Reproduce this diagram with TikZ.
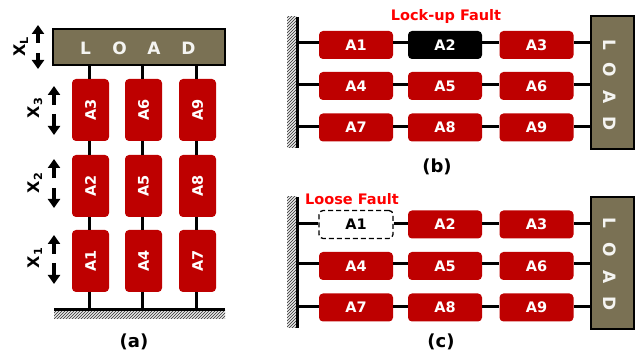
\documentclass[tikz,border=0pt]{standalone}
\usepackage{fontspec}
\setmainfont{DejaVu Sans}
\usetikzlibrary{arrows.meta,calc}
\definecolor{actred}{HTML}{BE0000}
\definecolor{loadc}{HTML}{7A7154}
\definecolor{hatchc}{HTML}{505050}
\tikzset{
  act/.style={fill=actred,rounded corners=4pt,inner sep=0pt,text=white,font=\bfseries\fontsize{14.5}{16}\selectfont},
  actv/.style={act,minimum width=37pt,minimum height=62pt},
  acth/.style={act,minimum width=74pt,minimum height=28pt},
  lockact/.style={acth,fill=black},
  looseact/.style={acth,fill=white,text=black,draw=black,dash pattern=on 5pt off 3pt,line width=1.3pt},
  loadbox/.style={draw=black,line width=1.8pt,fill=loadc,inner sep=0pt},
  loadtxt/.style={text=white!92!loadc,font=\bfseries\fontsize{17}{18}\selectfont,inner sep=0pt},
  conn/.style={line width=3pt,black},
  wallline/.style={line width=3pt,black},
  hatchl/.style={line width=.9pt,hatchc},
  dirarrow/.style={line width=3.5pt,-{Triangle[width=12pt,length=9pt]}},
  axislbl/.style={font=\bfseries\fontsize{16}{18}\selectfont,rotate=90,inner sep=0pt},
  faulttxt/.style={text=red,font=\bfseries\fontsize{14.5}{16}\selectfont,inner sep=0pt},
  caption/.style={font=\bfseries\fontsize{18}{20}\selectfont,inner sep=0pt},
}
\begin{document}
\begin{tikzpicture}[x=1pt,y=-1pt]
\useasboundingbox (0,0) rectangle (638,355);
% ---------- panel (a)
\node[loadbox,minimum width=172pt,minimum height=36pt] (la) at (139,47) {};
\node[loadtxt] (la1) at (85.5,48) {L};
\node[loadtxt] (la2) at (119.5,48) {O};
\node[loadtxt] (la3) at (154,48) {A};
\node[loadtxt] (la4) at (188.5,48) {D};
\foreach \n/\t/\x/\y in {a3/A3/90.5/110,a6/A6/143.5/110,a9/A9/197.5/110,
                         a2/A2/90.5/186,a5/A5/143.5/186,a8/A8/197.5/186,
                         a1/A1/90.5/261,a4/A4/143.5/261,a7/A7/197.5/261}
  \node[actv] (\n) at (\x,\y) {\rotatebox{90}{\t}};
\coordinate (ga) at (54,310);
\coordinate (gb) at (225,310);
\begin{scope}
\clip (54,310) rectangle (225,319);
\foreach \i in {0,3,...,186}
  \draw[hatchl] ($(ga)+(\i,0)$) -- ($(ga)+(\i-10,10)$);
\end{scope}
\draw[wallline] (ga) -- (gb);
\foreach \c/\m/\t in {a1/a2/a3,a4/a5/a6,a7/a8/a9}{
  \draw[conn] ([xshift=-1.5pt]\c.south) -- ([xshift=-1.5pt]\c.south |- ga);
  \draw[conn] ([xshift=-1.5pt]\c.north) -- ([xshift=-1.5pt]\m.south);
  \draw[conn] ([xshift=-1.5pt]\m.north) -- ([xshift=-1.5pt]\t.south);
  \draw[conn] ([xshift=-1.5pt]\t.north) -- ([xshift=-1.5pt]\t.north |- la.south);
}
\node[axislbl] (xl) at (21,47) {X\textsubscript{L}};
\node[axislbl] (x3) at (35,108) {X\textsubscript{3}};
\node[axislbl] (x2) at (35,183) {X\textsubscript{2}};
\node[axislbl] (x1) at (35,258) {X\textsubscript{1}};
\foreach \n/\x/\a/\b/\c/\d in {l/38/43/25/53/69,k/54/105/86/114/135,j/54/178/159/188/208,i/54/254/235/263/284}{
  \coordinate (\n u0) at (\x,\a); \coordinate (\n u1) at (\x,\b);
  \coordinate (\n d0) at (\x,\c); \coordinate (\n d1) at (\x,\d);
  \draw[dirarrow] (\n u0) -- (\n u1);
  \draw[dirarrow] (\n d0) -- (\n d1);
}
\node[caption] (capa) at (134,342) {(a)};
% ---------- panel (b)
\coordinate (wbt) at (297,17); \coordinate (wbb) at (297,148);
\begin{scope}
\clip (287,17) rectangle (297,148);
\foreach \i in {-12,-9,...,135}
  \draw[hatchl] ($(wbt)+(0,\i)$) -- ($(wbt)+(-10,\i+10)$);
\end{scope}
\draw[wallline] (wbt) -- (wbb);
\node[loadbox,minimum width=43pt,minimum height=133pt] (lb) at (612.5,82.5) {};
\foreach \n/\t/\y in {1/L/45,2/O/70,3/A/97,4/D/124}
  \node[loadtxt,rotate=-90] (lb\n) at (610,\y) {\t};
\node[acth] (b1) at (356,45) {A1};
\node[lockact] (b2) at (445,45) {A2};
\node[acth] (b3) at (536.5,45) {A3};
\node[acth] (b4) at (356,86) {A4};
\node[acth] (b5) at (445,86) {A5};
\node[acth] (b6) at (536.5,86) {A6};
\node[acth] (b7) at (356,127.5) {A7};
\node[acth] (b8) at (445,127.5) {A8};
\node[acth] (b9) at (536.5,127.5) {A9};
\foreach \p/\q/\r/\y in {b1/b2/b3/43,b4/b5/b6/85,b7/b8/b9/127}{
  \coordinate (w\p) at (297,\y);
  \draw[conn] (w\p) -- (w\p -| \p.west);
  \draw[conn] (w\p -| \p.east) -- (w\p -| \q.west);
  \draw[conn] (w\p -| \q.east) -- (w\p -| \r.west);
  \draw[conn] (w\p -| \r.east) -- (w\p -| lb.west);
}
\node[faulttxt] (fb) at (446,17) {Lock-up Fault};
\node[caption] (capb) at (437,167) {(b)};
% ---------- panel (c)
\coordinate (wct) at (297,197); \coordinate (wcb) at (297,328);
\begin{scope}
\clip (287,197) rectangle (297,328);
\foreach \i in {-12,-9,...,135}
  \draw[hatchl] ($(wct)+(0,\i)$) -- ($(wct)+(-10,\i+10)$);
\end{scope}
\draw[wallline] (wct) -- (wcb);
\node[loadbox,minimum width=43pt,minimum height=132pt] (lc) at (612.5,263) {};
\foreach \n/\t/\y in {1/L/223,2/O/250,3/A/277,4/D/304}
  \node[loadtxt,rotate=-90] (lc\n) at (610,\y) {\t};
\node[looseact] (c1) at (356,224.5) {A1};
\node[acth] (c2) at (445,224.5) {A2};
\node[acth] (c3) at (536.5,224.5) {A3};
\node[acth] (c4) at (356,266) {A4};
\node[acth] (c5) at (445,266) {A5};
\node[acth] (c6) at (536.5,266) {A6};
\node[acth] (c7) at (356,307.5) {A7};
\node[acth] (c8) at (445,307.5) {A8};
\node[acth] (c9) at (536.5,307.5) {A9};
\foreach \p/\q/\r/\y in {c1/c2/c3/224,c4/c5/c6/264,c7/c8/c9/307}{
  \coordinate (w\p) at (297,\y);
  \draw[conn] (w\p) -- (w\p -| \p.west);
  \draw[conn] (w\p -| \p.east) -- (w\p -| \q.west);
  \draw[conn] (w\p -| \q.east) -- (w\p -| \r.west);
  \draw[conn] (w\p -| \r.east) -- (w\p -| lc.west);
}
\node[faulttxt] (fc) at (352,199) {Loose Fault};
\node[caption] (capc) at (441,342) {(c)};
\end{tikzpicture}
\end{document}
